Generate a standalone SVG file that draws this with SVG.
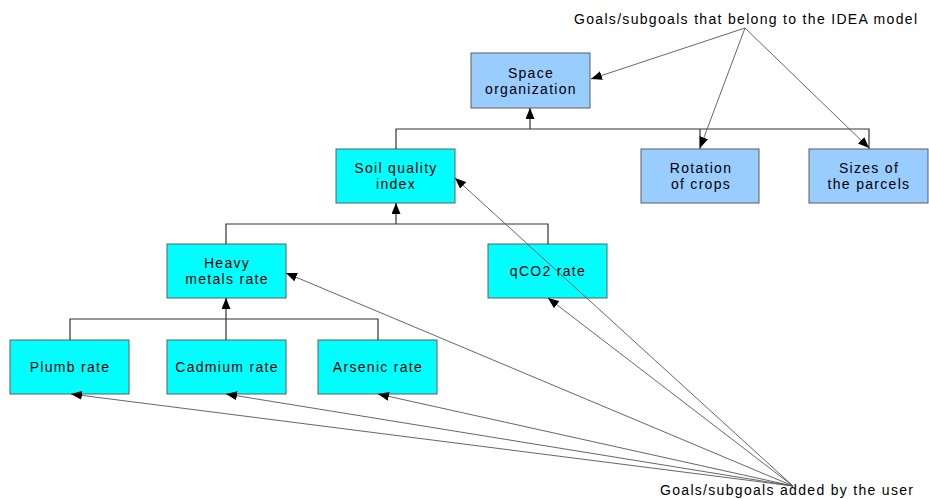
<svg xmlns="http://www.w3.org/2000/svg" width="929" height="499" viewBox="0 0 929 499">
  <style>
    .box { stroke: #5f5f5f; stroke-width: 1; }
    .idea { fill: #99ccff; }
    .user { fill: #00ffff; }
    .lbl { font-family: "Liberation Sans", Arial, sans-serif; font-size: 14px; letter-spacing: 1.3px; fill: #000; text-anchor: middle; }
    .note { font-family: "Liberation Sans", Arial, sans-serif; font-size: 14px; fill: #000; }
    .tree { fill: none; stroke: #333; stroke-width: 1.2; }
    .ptr { fill: none; stroke: #555; stroke-width: 0.9; }
  </style>
  <defs>
    <marker id="head" markerUnits="userSpaceOnUse" markerWidth="11" markerHeight="9" refX="11" refY="4.5" orient="auto">
      <path d="M0,0 L11,4.5 L0,9 z" fill="#000"/>
    </marker>
  </defs>
  <rect width="929" height="499" fill="#fff"/>

  <g id="space-organization">
    <rect class="box idea" x="471" y="53" width="119" height="55"/>
    <text class="lbl" x="531" y="78">Space</text>
    <text class="lbl" x="531" y="94">organization</text>
  </g>
  <g id="rotation-of-crops">
    <rect class="box idea" x="641" y="149" width="118" height="54"/>
    <text class="lbl" x="701" y="173">Rotation</text>
    <text class="lbl" x="701" y="189">of crops</text>
  </g>
  <g id="sizes-of-parcels">
    <rect class="box idea" x="809" y="149" width="119" height="54"/>
    <text class="lbl" x="869" y="173">Sizes of</text>
    <text class="lbl" x="869" y="189">the parcels</text>
  </g>
  <g id="soil-quality-index">
    <rect class="box user" x="336" y="149" width="119" height="54"/>
    <text class="lbl" x="396" y="173">Soil quality</text>
    <text class="lbl" x="396" y="189">index</text>
  </g>
  <g id="heavy-metals-rate">
    <rect class="box user" x="167" y="244" width="119" height="54"/>
    <text class="lbl" x="227" y="268">Heavy</text>
    <text class="lbl" x="227" y="284">metals rate</text>
  </g>
  <g id="qco2-rate">
    <rect class="box user" x="488" y="244" width="119" height="54"/>
    <text class="lbl" x="548" y="276">qCO2 rate</text>
  </g>
  <g id="plumb-rate">
    <rect class="box user" x="10" y="340" width="119" height="54"/>
    <text class="lbl" x="70" y="372">Plumb rate</text>
  </g>
  <g id="cadmium-rate">
    <rect class="box user" x="167" y="340" width="119" height="54"/>
    <text class="lbl" x="227" y="372">Cadmium rate</text>
  </g>
  <g id="arsenic-rate">
    <rect class="box user" x="318" y="340" width="119" height="54"/>
    <text class="lbl" x="378" y="372">Arsenic rate</text>
  </g>

  <!-- hierarchy links and annotation arrows, drawn above the boxes -->
  <g id="connectors">
    <path class="tree" d="M396,149 V129 H869 V149 M700,129 V149"/>
    <path class="tree" d="M530,129 V108" marker-end="url(#head)"/>
    <path class="tree" d="M226,244 V224 H548 V244"/>
    <path class="tree" d="M396,224 V203" marker-end="url(#head)"/>
    <path class="tree" d="M70,340 V319 H378 V340"/>
    <path class="tree" d="M226,340 V298" marker-end="url(#head)"/>

    <g class="ptr" marker-end="url(#head)">
      <path d="M745,28 L591,79"/>
      <path d="M745,28 L700,148"/>
      <path d="M745,28 L869,148"/>
      <path d="M793,486 L455,178"/>
      <path d="M793,486 L286,273"/>
      <path d="M793,486 L548,298"/>
      <path d="M793,486 L71,394"/>
      <path d="M793,486 L226,394"/>
      <path d="M793,486 L378,394"/>
    </g>
  </g>

  <g id="captions">
    <text class="note" x="574" y="24" textLength="343" lengthAdjust="spacing">Goals/subgoals that belong to the IDEA model</text>
    <text class="note" x="660" y="495" textLength="253" lengthAdjust="spacing">Goals/subgoals added by the user</text>
  </g>
</svg>
